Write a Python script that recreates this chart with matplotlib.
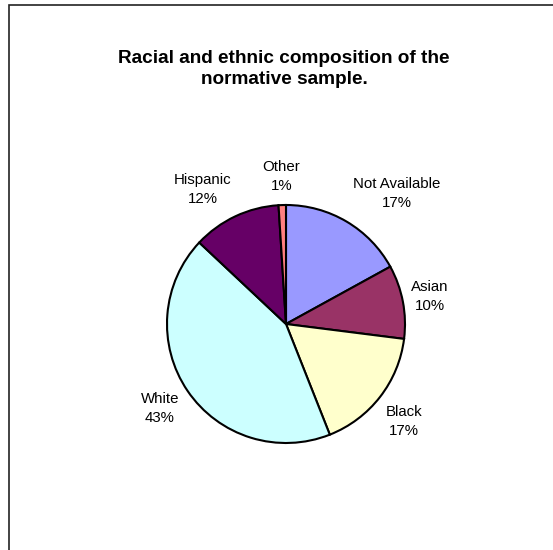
import matplotlib
matplotlib.use("Agg")
import matplotlib.pyplot as plt
from matplotlib.patches import Rectangle

plt.rcParams['font.family'] = ['Liberation Sans', 'DejaVu Sans']

categories = ["Not Available", "Asian", "Black", "White", "Hispanic", "Other"]
percentages = [17, 10, 17, 43, 12, 1]
colors = ["#9999FF", "#993366", "#FFFFCC", "#CCFFFF", "#660066", "#FF8080"]
title = "Racial and ethnic composition of the\nnormative sample."

# label anchor positions (in pie radius units), layout only
label_xy = [(0.93, 1.10), (1.21, 0.235), (0.99, -0.82), (-1.06, -0.71),
            (-0.70, 1.13), (-0.04, 1.24)]

W, H = 553, 550
fig = plt.figure(figsize=(W / 100, H / 100), dpi=100)
fig.patch.set_facecolor("white")

# outer frame (extends past right/bottom edges like the reference)
fig.add_artist(Rectangle((9 / W, -0.2), 1.5, 1 - 5 / H + 0.2,
                         transform=fig.transFigure, fill=False,
                         edgecolor="#222222", linewidth=1.2))

cx, cy, r = 286, 324, 119
half = 1.6 * r
ax = fig.add_axes([(cx - half) / W, (H - cy - half) / H, 2 * half / W, 2 * half / H])
ax.pie(percentages, colors=colors, startangle=90, counterclock=False, radius=1,
       wedgeprops=dict(edgecolor="black", linewidth=1.5))
ax.set_xlim(-1.6, 1.6)
ax.set_ylim(-1.6, 1.6)
ax.set_aspect("equal")
ax.axis("off")

for name, pct, (x, y) in zip(categories, percentages, label_xy):
    ax.text(x, y, f"{name}\n{pct}%", ha="center", va="center",
            fontsize=10.8, linespacing=1.45, color="black")

fig.text(284 / W, 1 - 69 / H, title, ha="center", va="center",
         fontsize=13.7, fontweight="bold", linespacing=1.32)

fig.savefig("out.png", dpi=100)
